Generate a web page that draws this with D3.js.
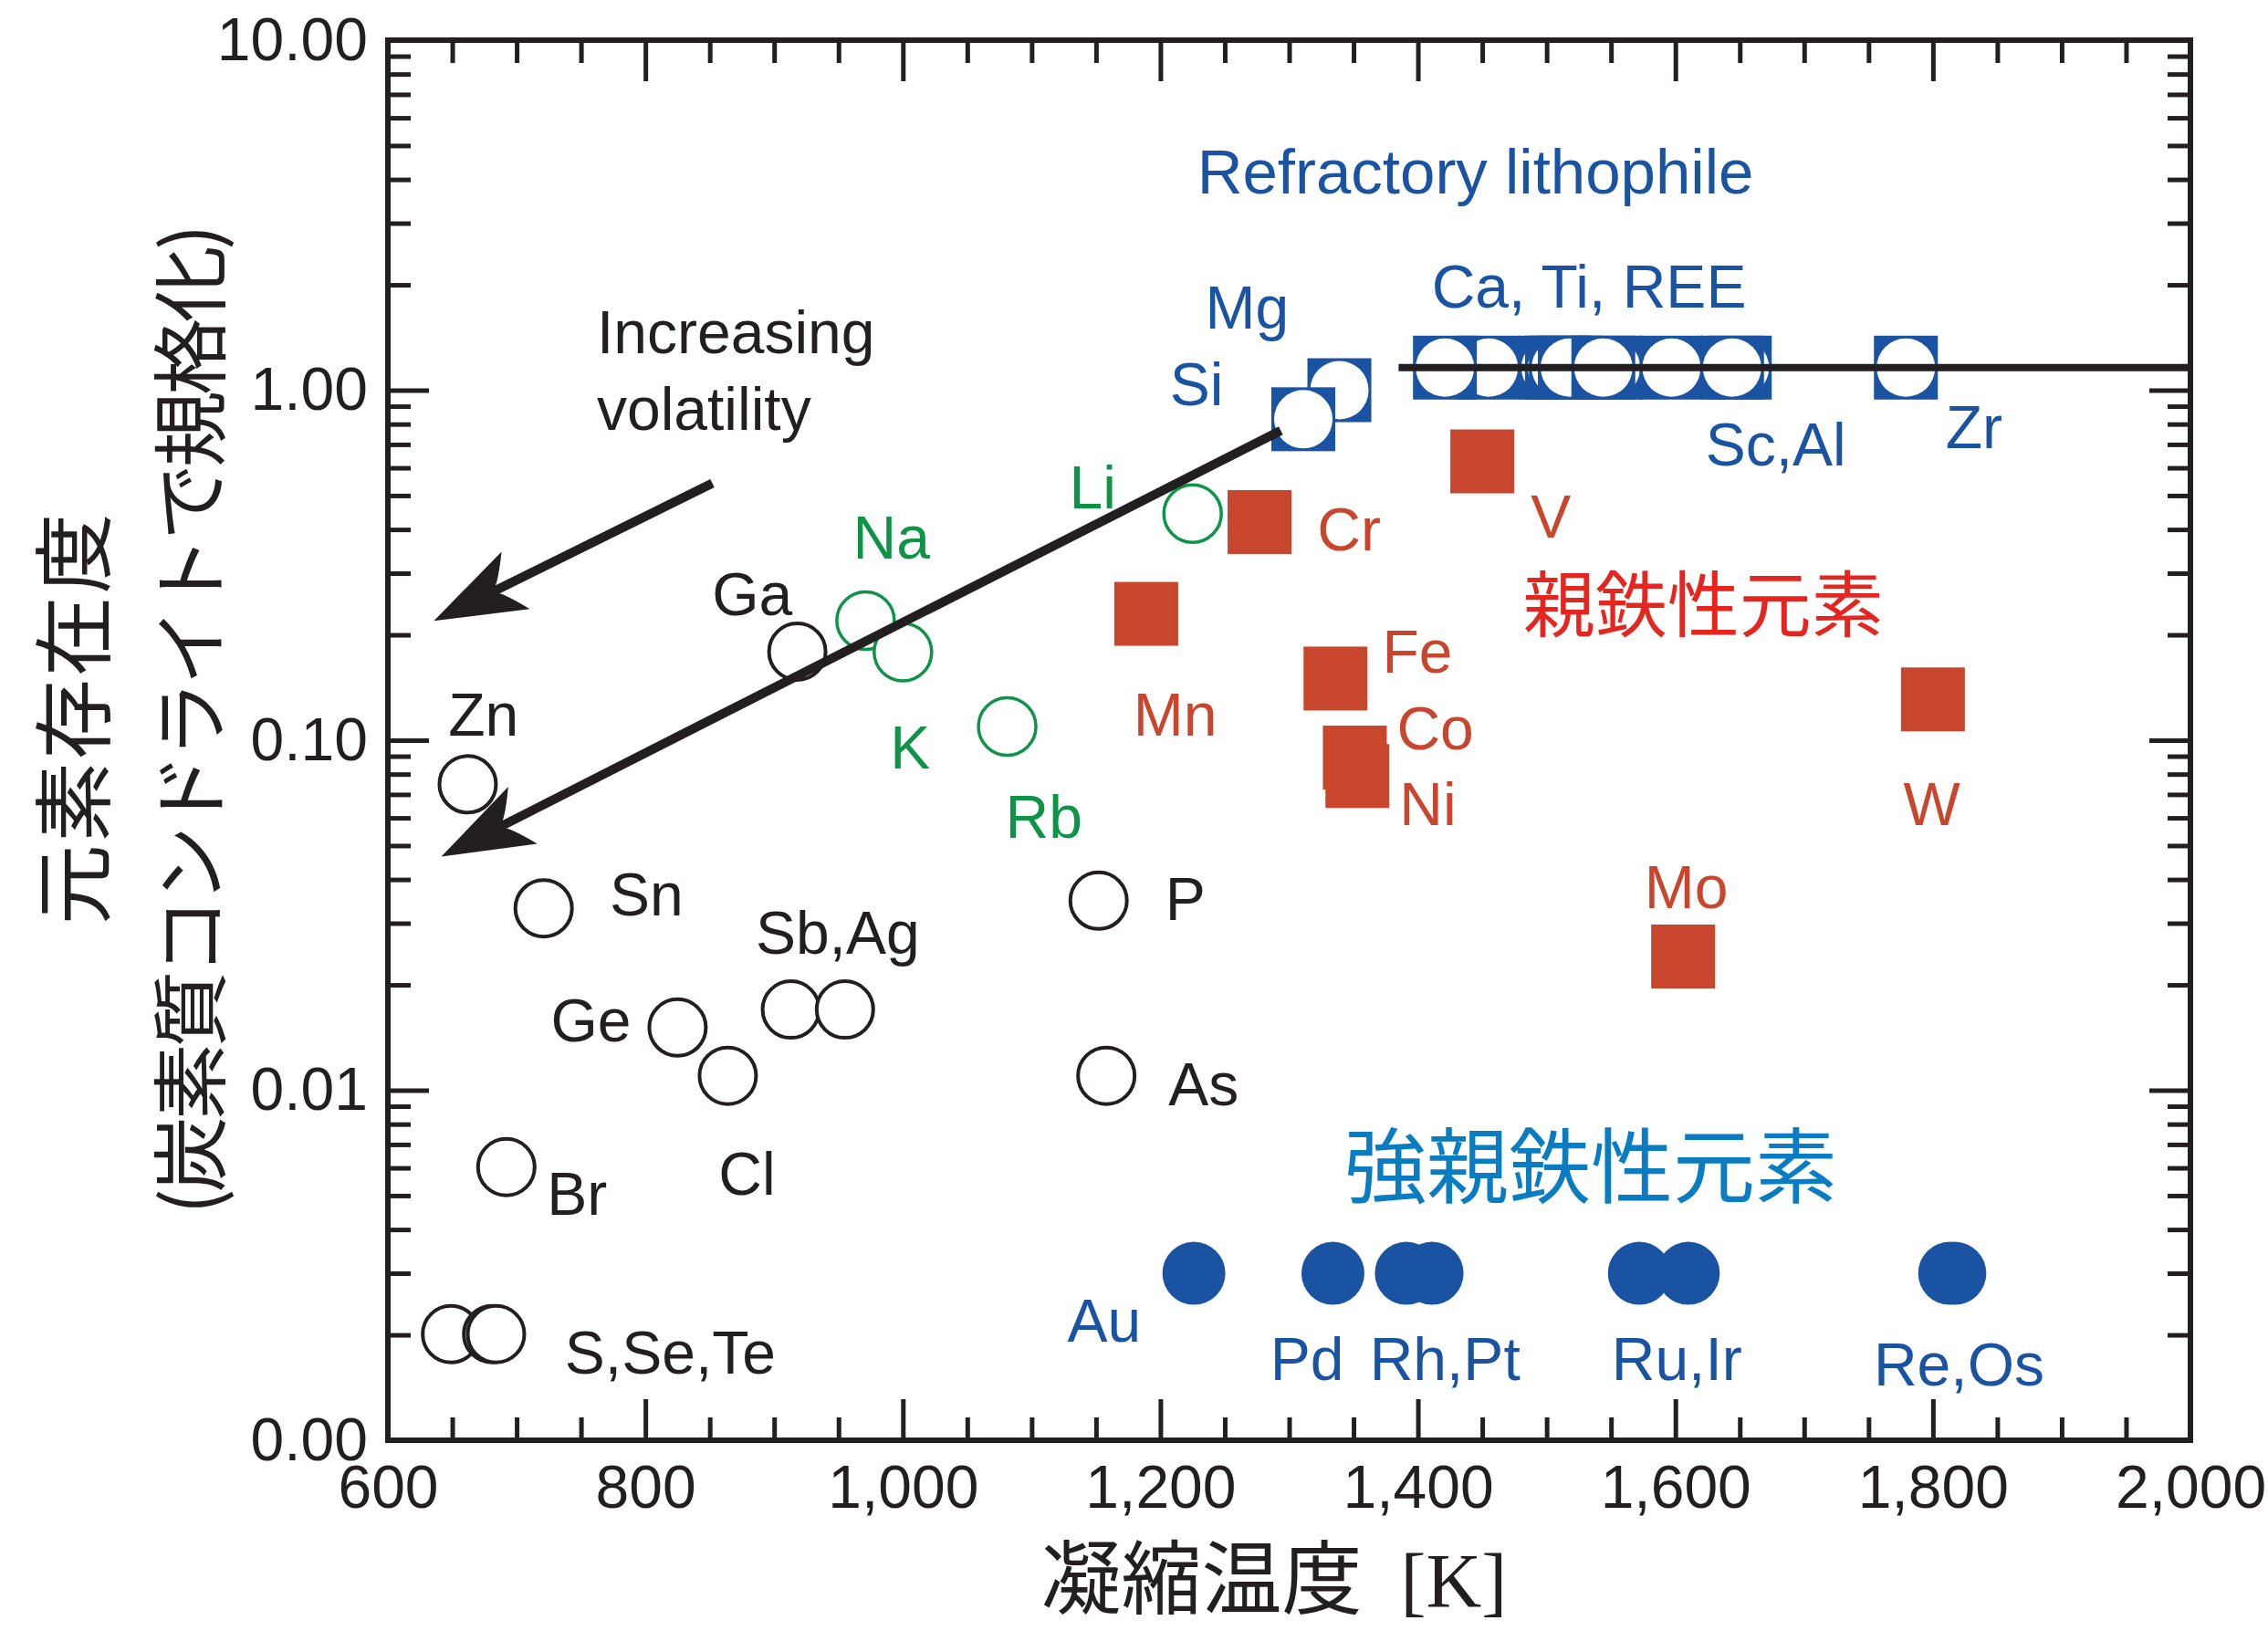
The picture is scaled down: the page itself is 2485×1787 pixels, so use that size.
<!DOCTYPE html>
<html>
<head>
<meta charset="utf-8">
<script src="https://cdn.jsdelivr.net/npm/d3@7"></script>
<style>
  body { margin: 0; background: #fff; }
  svg { display: block; }
  .axis text { font-family: "Liberation Sans", Arial, sans-serif; font-size: 66px; fill: #231f20; }
  .axis line { stroke: #231f20; stroke-width: 5; }
  .axis path.domain { display: none; }
  .lbl { font-family: "Liberation Sans", Arial, sans-serif; font-size: 66px; }
  .cjk { font-family: "Noto Sans CJK JP", sans-serif; }
</style>
</head>
<body>
<div id="chart"></div>
<script>

// volatile elements (black open circles)
var volT = [662, 918, 721, 825, 864, 913, 955, 1152, 1158, 692, 649, 681, 684];
var volV = [0.0748, 0.179, 0.0331, 0.0151, 0.0110, 0.0170, 0.0170, 0.0348, 0.0110, 0.00603, 0.00201, 0.00201, 0.00201];

// alkali elements (green open circles): Li, Na, K, Rb
var alkT = [1225, 971, 1000, 1081];
var alkV = [0.444, 0.2195, 0.1785, 0.1094];

// refractory lithophile (blue squares): Mg, Si, the Ca-Ti-REE-Sc-Al row, Zr
var refT = [1339, 1311, 1455, 1421, 1503, 1508, 1511, 1518, 1550, 1544, 1597, 1650, 1644, 1779];
var refV = [1.0, 0.826, 1.16, 1.16, 1.16, 1.16, 1.16, 1.16, 1.16, 1.16, 1.16, 1.16, 1.16, 1.16];

// refractory level line
var levelT = [1385, 2000];
var levelV = [1.16, 1.16];

// siderophile (red squares): Cr, Mn, V, Fe, Co, Ni, W, Mo
var sidT = [1277, 1189, 1450, 1336, 1351, 1353, 1800, 1606];
var sidV = [0.42, 0.2296, 0.626, 0.150, 0.0892, 0.0790, 0.1308, 0.0241];

// highly siderophile (blue dots): Au, Pd, Rh, Pt, Ru, Ir, Re, Os
var hseT = [1226, 1334, 1391, 1411, 1572, 1610, 1813, 1817];
var hseV = [0.003, 0.003, 0.003, 0.003, 0.003, 0.003, 0.003, 0.003];

// "increasing volatility" arrows (from -> to)
var arrowFromT = [852, 1293.5], arrowFromV = [0.542, 0.767];
var arrowToT = [635.7, 641.5], arrowToV = [0.2193, 0.0465];

// ticks
var xMajor = [600, 800, 1000, 1200, 1400, 1600, 1800, 2000];
var xTickLabels = ["600", "800", "1,000", "1,200", "1,400", "1,600", "1,800", "2,000"];
var yMajor = [0.001, 0.01, 0.1, 1, 10];
var yTickLabels = ["0.00", "0.01", "0.10", "1.00", "10.00"];

// element labels
var labelText = ["Refractory lithophile", "Mg", "Si", "Ca, Ti, REE", "Sc,Al", "Zr",
  "Li", "Na", "Ga", "K", "Rb", "Zn", "Mn", "Sn", "P", "Sb,Ag", "Ge", "Cl", "As", "Br", "S,Se,Te",
  "Au", "Pd", "Rh,Pt", "Ru,Ir", "Re,Os", "Cr", "V", "Fe", "Co", "Ni", "W", "Mo"];
var labelT = [1228.5, 1234.8, 1207.3, 1410.7, 1623.4, 1809.8,
  1129.2, 961.2, 851.8, 990, 1079.6, 646.9, 1179, 772.2, 1203.8, 885.6, 726.5, 856.8, 1206.3, 723.5, 737.4,
  1127.8, 1285.3, 1362.5, 1550.4, 1754, 1321.8, 1487.6, 1372.3, 1383.6, 1385.6, 1777, 1575.9];
var labelV = [3.64, 1.497, 0.905, 1.717, 0.608, 0.685,
  0.4607, 0.3311, 0.2282, 0.0830, 0.05245, 0.1033, 0.1033, 0.03165, 0.03057, 0.02457, 0.01377, 0.005026, 0.009042, 0.004417, 0.001551,
  0.001913, 0.00149, 0.00149, 0.00149, 0.001432, 0.3493, 0.3783, 0.1562, 0.0942, 0.0571, 0.0571, 0.0331];
var labelGroup = ["lith", "lith", "lith", "lith", "lith", "lith",
  "alk", "alk", "vol", "alk", "alk", "vol", "sid", "vol", "vol", "vol", "vol", "vol", "vol", "vol", "vol",
  "hse", "hse", "hse", "hse", "hse", "sid", "sid", "sid", "sid", "sid", "sid", "sid"];

var colors = {vol: "#231f20", alk: "#0f9447", lith: "#1a53a1", sid: "#c8462d", hse: "#1a53a1"};

var width = 2485, height = 1787;
var margin = {top: 44, right: 85, bottom: 209, left: 425};

var svg = d3.select("#chart")
  .append("svg")
    .attr("width", width)
    .attr("height", height);

var x = d3.scaleLinear()
  .domain([600, 2000])
  .range([margin.left, width - margin.right]);

var y = d3.scaleLog()
  .domain([0.001, 10])
  .range([height - margin.bottom, margin.top]);

var xMinor = d3.range(650, 2000, 50).filter(function(d) { return d % 200 != 0; });
var yMinor = [];
[0.001, 0.01, 0.1, 1].forEach(function(dec) {
  for (var k = 2; k <= 9; k++) yMinor.push(k * dec);
});

var x0 = x.range()[0], x1 = x.range()[1], y0 = y.range()[0], y1 = y.range()[1];

// axes, ticks pointing inward
svg.append("g").attr("class", "axis")
  .attr("transform", "translate(0," + y0 + ")")
  .call(d3.axisBottom(x).tickValues(xMajor).tickSize(-45).tickPadding(27)
    .tickFormat(function(d, i) { return xTickLabels[i]; }));
svg.append("g").attr("class", "axis")
  .attr("transform", "translate(0," + y0 + ")")
  .call(d3.axisBottom(x).tickValues(xMinor).tickSize(-25).tickFormat(""));
svg.append("g").attr("class", "axis")
  .attr("transform", "translate(0," + y1 + ")")
  .call(d3.axisTop(x).tickValues(xMajor).tickSize(-45).tickFormat(""));
svg.append("g").attr("class", "axis")
  .attr("transform", "translate(0," + y1 + ")")
  .call(d3.axisTop(x).tickValues(xMinor).tickSize(-25).tickFormat(""));

svg.append("g").attr("class", "axis")
  .attr("transform", "translate(" + x0 + ",0)")
  .call(d3.axisLeft(y).tickValues(yMajor).tickSize(-45).tickPadding(22)
    .tickFormat(function(d, i) { return yTickLabels[i]; }));
svg.append("g").attr("class", "axis")
  .attr("transform", "translate(" + x0 + ",0)")
  .call(d3.axisLeft(y).tickValues(yMinor).tickSize(-25).tickFormat(""));
svg.append("g").attr("class", "axis")
  .attr("transform", "translate(" + x1 + ",0)")
  .call(d3.axisRight(y).tickValues(yMajor).tickSize(-45).tickFormat(""));
svg.append("g").attr("class", "axis")
  .attr("transform", "translate(" + x1 + ",0)")
  .call(d3.axisRight(y).tickValues(yMinor).tickSize(-25).tickFormat(""));

// frame
svg.append("rect")
  .attr("x", x0).attr("y", y1)
  .attr("width", x1 - x0).attr("height", y0 - y1)
  .attr("fill", "none").attr("stroke", "#231f20").attr("stroke-width", 6);

// highly siderophile dots
svg.append("g").selectAll("circle")
  .data(d3.range(hseT.length))
  .enter().append("circle")
    .attr("cx", function(i) { return x(hseT[i]); })
    .attr("cy", function(i) { return y(hseV[i]); })
    .attr("r", 34.5)
    .style("fill", colors.hse);

// siderophile squares
svg.append("g").selectAll("rect")
  .data(d3.range(sidT.length))
  .enter().append("rect")
    .attr("x", function(i) { return x(sidT[i]) - 35; })
    .attr("y", function(i) { return y(sidV[i]) - 35; })
    .attr("width", 70).attr("height", 70)
    .style("fill", colors.sid);

// volatile open circles
svg.append("g").selectAll("circle")
  .data(d3.range(volT.length))
  .enter().append("circle")
    .attr("cx", function(i) { return x(volT[i]); })
    .attr("cy", function(i) { return y(volV[i]); })
    .attr("r", 31)
    .style("fill", "#fff")
    .style("stroke", colors.vol)
    .style("stroke-width", 4);

// alkali open circles
svg.append("g").selectAll("circle")
  .data(d3.range(alkT.length))
  .enter().append("circle")
    .attr("cx", function(i) { return x(alkT[i]); })
    .attr("cy", function(i) { return y(alkV[i]); })
    .attr("r", 31.5)
    .style("fill", "#fff")
    .style("stroke", colors.alk)
    .style("stroke-width", 3.5);

// refractory lithophile: blue square with white circle
var ref = svg.append("g").selectAll("g")
  .data(d3.range(refT.length))
  .enter().append("g");
ref.append("rect")
  .attr("x", function(i) { return x(refT[i]) - 35; })
  .attr("y", function(i) { return y(refV[i]) - 35; })
  .attr("width", 70).attr("height", 70)
  .style("fill", colors.lith);
ref.append("circle")
  .attr("cx", function(i) { return x(refT[i]); })
  .attr("cy", function(i) { return y(refV[i]); })
  .attr("r", 32)
  .style("fill", "#fff");

// arrows
for (var a = 0; a < arrowFromT.length; a++) {
  var p0 = [x(arrowFromT[a]), y(arrowFromV[a])];
  var p1 = [x(arrowToT[a]), y(arrowToV[a])];
  var dx = p1[0] - p0[0], dy = p1[1] - p0[1];
  var len = Math.sqrt(dx * dx + dy * dy);
  var u = [dx / len, dy / len], n = [-u[1], u[0]];
  var L = 100, hw = 35, notch = 70;
  svg.append("line")
    .attr("x1", p0[0]).attr("y1", p0[1])
    .attr("x2", p1[0] - u[0] * 60).attr("y2", p1[1] - u[1] * 60)
    .attr("stroke", "#231f20").attr("stroke-width", 10);
  var b1 = [p1[0] - u[0] * L + n[0] * hw, p1[1] - u[1] * L + n[1] * hw];
  var b2 = [p1[0] - u[0] * L - n[0] * hw, p1[1] - u[1] * L - n[1] * hw];
  var nc = [p1[0] - u[0] * notch, p1[1] - u[1] * notch];
  svg.append("path")
    .attr("d", "M" + p1 + "L" + b1 + "Q" + [nc[0] - u[0] * 8, nc[1] - u[1] * 8] + " " + nc +
      "Q" + [nc[0] - u[0] * 8, nc[1] - u[1] * 8] + " " + b2 + "Z")
    .attr("fill", "#231f20");
}

// refractory level line
svg.append("line")
  .attr("x1", x(levelT[0])).attr("y1", y(levelV[0]))
  .attr("x2", x(levelT[1]) + 3).attr("y2", y(levelV[1]))
  .attr("stroke", "#231f20").attr("stroke-width", 8);

// element labels
svg.append("g").selectAll("text")
  .data(d3.range(labelText.length))
  .enter().append("text")
    .attr("class", "lbl")
    .attr("x", function(i) { return x(labelT[i]); })
    .attr("y", function(i) { return y(labelV[i]); })
    .style("fill", function(i) { return colors[labelGroup[i]]; })
    .style("font-size", function(i) { return i == 0 ? "69px" : null; })
    .text(function(i) { return labelText[i]; });

// notes
svg.append("text").attr("class", "lbl")
  .attr("x", x(762.3)).attr("y", y(1.274))
  .style("fill", "#231f20").text("Increasing");
svg.append("text").attr("class", "lbl")
  .attr("x", x(762.3)).attr("y", y(0.772))
  .style("fill", "#231f20").text("volatility");
svg.append("text").attr("class", "cjk")
  .attr("x", x(1481.7)).attr("y", y(0.2048))
  .style("font-size", "79px").style("fill", "#e5251f")
  .text("親鉄性元素");
svg.append("text").attr("class", "cjk")
  .attr("x", x(1342.9)).attr("y", y(0.00498))
  .style("font-size", "90px").style("fill", "#0a7cc1")
  .text("強親鉄性元素");

// axis titles
var xt = svg.append("text")
  .attr("x", (x0 + x1) / 2 - 272)
  .attr("y", 1761)
  .style("fill", "#231f20");
xt.append("tspan").attr("class", "cjk").style("font-size", "88px").text("凝縮温度");
xt.append("tspan").attr("dx", 42)
  .style("font-family", "'Liberation Serif', 'Times New Roman', serif")
  .style("font-size", "84px").text("[K]");

svg.append("text").attr("class", "cjk")
  .attr("transform", "translate(113,788) rotate(-90)")
  .attr("text-anchor", "middle")
  .attr("textLength", 451).attr("lengthAdjust", "spacing")
  .style("font-size", "88px").style("fill", "#231f20")
  .text("元素存在度");
svg.append("text").attr("class", "cjk")
  .attr("transform", "translate(240,788) rotate(-90)")
  .attr("text-anchor", "middle")
  .attr("textLength", 1085).attr("lengthAdjust", "spacing")
  .style("font-size", "84px").style("fill", "#231f20")
  .text("(炭素質コンドライトで規格化)");

</script>
</body>
</html>
